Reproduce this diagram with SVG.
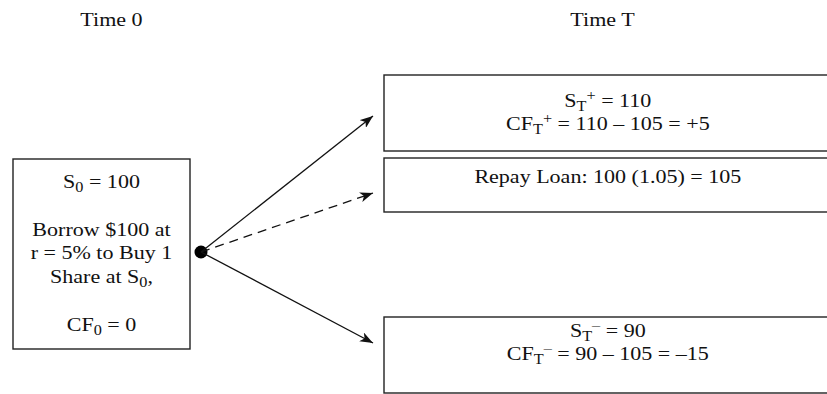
<svg xmlns="http://www.w3.org/2000/svg" width="827" height="394" viewBox="0 0 827 394">
<style>
  .box { fill: #ffffff; stroke: #222222; stroke-width: 1.4; }
  .lbl { font-family: "Liberation Serif", "Times New Roman", serif; font-size: 19px; fill: #111111; text-anchor: middle; }
  .sub { font-size: 14px; }
  .edge { stroke: #111111; stroke-width: 1.3; fill: none; }
  .dash { stroke-dasharray: 9 6; }
</style>
<defs>
  <marker id="arrow" markerUnits="userSpaceOnUse" markerWidth="14" markerHeight="10" refX="13" refY="5" orient="auto">
    <path d="M0,0 L13,5 L0,10 L3.5,5 Z" fill="#111111"/>
  </marker>
</defs>
<rect width="827" height="394" fill="#ffffff"/>

<g id="time0-label">
  <text class="lbl" transform="scale(1.16 1)" x="96.1" y="26">Time 0</text>
</g>
<g id="timeT-label">
  <text class="lbl" transform="scale(1.16 1)" x="519.4" y="26">Time T</text>
</g>

<g id="node-start">
  <rect class="box" x="13" y="159" width="177" height="190"/>
  <g transform="scale(1.16 1)">
    <text class="lbl" x="87.5" y="188">S<tspan class="sub" dy="4">0</tspan><tspan dy="-4"> = 100</tspan></text>
    <text class="lbl" x="87.5" y="236">Borrow $100 at</text>
    <text class="lbl" x="87.5" y="259">r = 5% to Buy 1</text>
    <text class="lbl" x="87.5" y="283">Share at S<tspan class="sub" dy="4">0</tspan><tspan dy="-4">,</tspan></text>
    <text class="lbl" x="87.5" y="331">CF<tspan class="sub" dy="4">0</tspan><tspan dy="-4"> = 0</tspan></text>
  </g>
</g>

<g id="node-up">
  <rect class="box" x="384" y="75" width="450" height="76"/>
  <g transform="scale(1.16 1)">
    <text class="lbl" x="524" y="107">S<tspan class="sub" dy="4">T</tspan><tspan class="sub" dy="-11">+</tspan><tspan dy="7"> = 110</tspan></text>
    <text class="lbl" x="524" y="130">CF<tspan class="sub" dy="4">T</tspan><tspan class="sub" dy="-11">+</tspan><tspan dy="7"> = 110 – 105 = +5</tspan></text>
  </g>
</g>

<g id="node-loan">
  <rect class="box" x="384" y="158" width="450" height="54"/>
  <g transform="scale(1.16 1)">
    <text class="lbl" x="524" y="183">Repay Loan: 100 (1.05) = 105</text>
  </g>
</g>

<g id="node-down">
  <rect class="box" x="384" y="317" width="450" height="76"/>
  <g transform="scale(1.16 1)">
    <text class="lbl" x="524" y="337">S<tspan class="sub" dy="4">T</tspan><tspan class="sub" dy="-11">–</tspan><tspan dy="7"> = 90</tspan></text>
    <text class="lbl" x="524" y="360">CF<tspan class="sub" dy="4">T</tspan><tspan class="sub" dy="-11">–</tspan><tspan dy="7"> = 90 – 105 = –15</tspan></text>
  </g>
</g>

<g id="connectors">
  <circle cx="201" cy="252" r="6.5" fill="#000000"/>
  <line class="edge" x1="201" y1="252" x2="373" y2="116" marker-end="url(#arrow)"/>
  <line class="edge dash" x1="201" y1="252" x2="373" y2="193" marker-end="url(#arrow)"/>
  <line class="edge" x1="201" y1="252" x2="373" y2="343" marker-end="url(#arrow)"/>
</g>
</svg>
